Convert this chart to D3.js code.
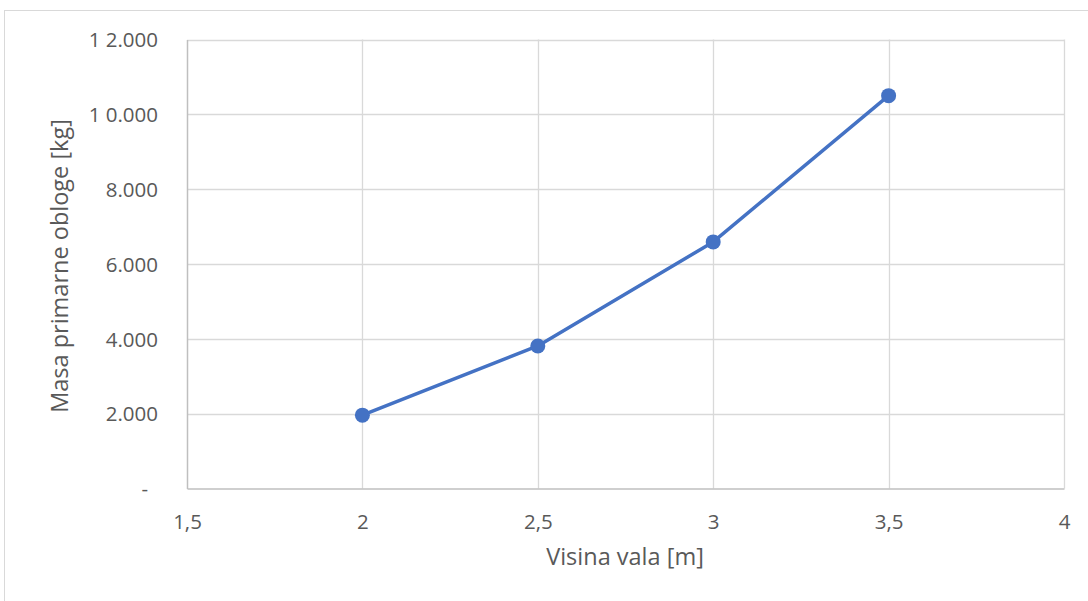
<!DOCTYPE html>
<html><head><meta charset="utf-8">
<script src="https://cdn.jsdelivr.net/npm/d3@7"></script>
<style>body{margin:0;background:#fff;}svg{display:block;}</style>
</head><body>
<svg id="c" width="1088" height="601"></svg>
<script>
const xValues = [2, 2.5, 3, 3.5];
const massValues = [1960, 3810, 6590, 10500];
const xTicks = [1.5, 2, 2.5, 3, 3.5, 4];
const yTicks = [0, 2000, 4000, 6000, 8000, 10000, 12000];
const yTickLabels = ["-", "2.000", "4.000", "6.000", "8.000", "1 0.000", "1 2.000"];
const xTickLabels = ["1,5", "2", "2,5", "3", "3,5", "4"];

const svg = d3.select("#c");
const font = "'Open Sans', sans-serif";
const m = {l: 187, r: 1064, t: 39.5, b: 488.5};
const x = d3.scaleLinear().domain([1.5, 4]).range([m.l, m.r]);
const y = d3.scaleLinear().domain([0, 12000]).range([m.b, m.t]);

svg.append("rect").attr("x", 4.5).attr("y", 10.5).attr("width", 1100).attr("height", 620)
  .attr("fill", "#fff").attr("stroke", "#d9d9d9");

// gridlines
svg.append("g").selectAll("line").data(yTicks.slice(1)).join("line")
  .attr("x1", m.l).attr("x2", m.r).attr("y1", d => Math.round(y(d)) + 0.5).attr("y2", d => Math.round(y(d)) + 0.5)
  .attr("stroke", "#d9d9d9").attr("stroke-width", 1.3);
svg.append("g").selectAll("line").data(xTicks.slice(1)).join("line")
  .attr("y1", m.t).attr("y2", m.b).attr("x1", d => Math.round(x(d)) + 0.5).attr("x2", d => Math.round(x(d)) + 0.5)
  .attr("stroke", "#d9d9d9").attr("stroke-width", 1.3);

// axes
const xAxis = d3.axisBottom(x).tickValues(xTicks).tickSize(0).tickFormat((d, i) => xTickLabels[i]);
const gx = svg.append("g").attr("transform", `translate(0,${m.b})`).call(xAxis);
gx.select(".domain").attr("stroke", "#bfbfbf").attr("stroke-width", 1.5);
gx.selectAll("text").attr("dy", 0).attr("y", 40).attr("fill", "#595959")
  .style("font-family", font).style("font-size", "20.5px");

const yAxis = d3.axisLeft(y).tickValues(yTicks).tickSize(0).tickFormat((d, i) => yTickLabels[i]);
const gy = svg.append("g").attr("transform", `translate(${m.l},0)`).call(yAxis);
gy.select(".domain").attr("stroke", "#bfbfbf").attr("stroke-width", 1.5);
gy.selectAll("text").attr("x", -29).attr("dy", "0.35em").attr("fill", "#595959")
  .style("font-family", font).style("font-size", "20.5px");
gy.selectAll("text").filter(d => d === 0).attr("x", -39);

// line
const pts = xValues.map((v, i) => [v, massValues[i]]);
svg.append("path").datum(pts)
  .attr("d", d3.line().x(d => x(d[0])).y(d => y(d[1])))
  .attr("fill", "none").attr("stroke", "#4472C4").attr("stroke-width", 3.5).attr("stroke-linejoin", "round");
svg.append("g").selectAll("circle").data(pts).join("circle")
  .attr("cx", d => x(d[0])).attr("cy", d => y(d[1])).attr("r", 7.5).attr("fill", "#4472C4");

// titles
svg.append("text").attr("x", 625).attr("y", 565).attr("text-anchor", "middle")
  .attr("fill", "#595959").style("font-family", font).style("font-size", "23.5px").text("Visina vala [m]");
svg.append("text").attr("transform", `translate(68,${(m.t + m.b) / 2 + 2}) rotate(-90)`).attr("text-anchor", "middle")
  .attr("fill", "#595959").style("font-family", font).style("font-size", "23.5px").text("Masa primarne obloge [kg]");
</script>
</body></html>
